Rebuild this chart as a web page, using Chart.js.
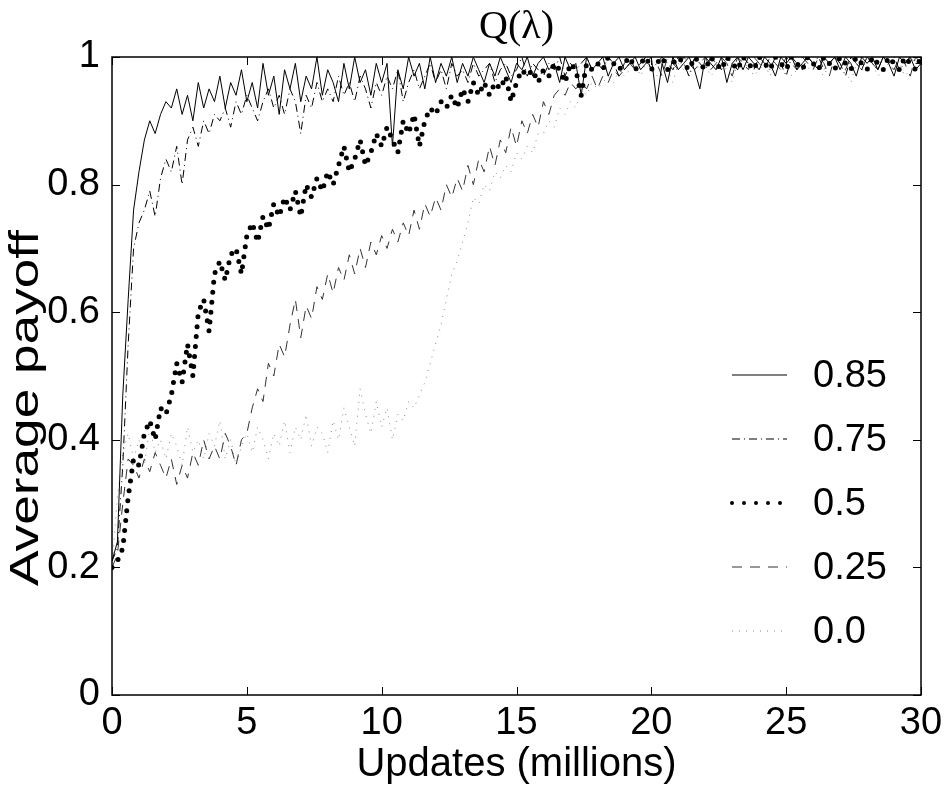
<!DOCTYPE html>
<html>
<head>
<meta charset="utf-8">
<script src="https://cdn.jsdelivr.net/npm/chart.js@4.4.0/dist/chart.umd.min.js"></script>
<style>
  html, body { margin: 0; padding: 0; background: #fff; }
  canvas { display: block; }
</style>
</head>
<body>
<canvas id="chart" width="949" height="787"></canvas>
<script>
// Data: average payoff vs. updates (millions), one value every 0.2M
const STEP = 0.2;
const updates = Array.from({ length: 151 }, (_, i) => +(i * STEP).toFixed(1));

const lambdaLabels = ['0.85', '0.75', '0.5', '0.25', '0.0'];

const payoff085 = [
  0.21, 0.24, 0.47, 0.62, 0.76, 0.82, 0.87, 0.90, 0.88, 0.91,
  0.93, 0.92, 0.95, 0.91, 0.94, 0.90, 0.96, 0.92, 0.95, 0.93,
  0.97, 0.92, 0.96, 0.94, 0.98, 0.93, 0.96, 0.92, 0.99, 0.94,
  0.97, 0.91, 0.98, 0.95, 0.99, 0.93, 0.97, 0.95, 1.00, 0.94,
  0.98, 0.96, 0.93, 0.99, 0.95, 1.00, 0.96, 0.98, 0.94, 0.99,
  0.96, 0.99, 0.86, 0.98, 0.95, 1.00, 0.97, 0.99, 0.95, 1.00,
  0.96, 0.99, 0.97, 1.00, 0.96, 0.99, 0.97, 1.00, 0.98, 0.96,
  0.99, 0.97, 1.00, 0.98, 0.96, 0.99, 0.98, 1.00, 0.97, 0.99,
  1.00, 0.98, 0.99, 0.96, 1.00, 0.98, 0.99, 0.94, 1.00, 0.98,
  0.99, 1.00, 0.97, 0.99, 1.00, 0.98, 0.99, 1.00, 0.98, 0.99,
  1.00, 0.93, 0.99, 0.96, 1.00, 0.98, 0.99, 1.00, 0.98, 0.95,
  1.00, 0.99, 0.98, 1.00, 0.96, 0.99, 1.00, 0.98, 1.00, 0.99,
  0.98, 1.00, 0.99, 0.97, 1.00, 0.99, 1.00, 0.98, 0.99, 1.00,
  0.99, 0.98, 1.00, 0.99, 1.00, 0.98, 1.00, 0.99, 0.97, 1.00,
  0.99, 1.00, 0.98, 1.00, 0.99, 0.97, 1.00, 0.99, 1.00, 0.98,
  0.99
];

const payoff075 = [
  0.21, 0.23, 0.36, 0.55, 0.70, 0.74, 0.76, 0.79, 0.75, 0.81,
  0.84, 0.82, 0.86, 0.80, 0.87, 0.89, 0.86, 0.90, 0.88, 0.91,
  0.90, 0.92, 0.89, 0.93, 0.91, 0.94, 0.92, 0.90, 0.93, 0.95,
  0.92, 0.94, 0.91, 0.95, 0.93, 0.88, 0.94, 0.92, 0.96, 0.93,
  0.95, 0.93, 0.97, 0.94, 0.96, 0.93, 0.97, 0.95, 0.92, 0.96,
  0.94, 0.97, 0.95, 0.98, 0.93, 0.96, 0.98, 0.95, 0.97, 0.99,
  0.96, 0.98, 0.95, 0.99, 0.97, 0.98, 0.96, 0.99, 0.97, 0.98,
  0.99, 0.96, 0.98, 0.99, 0.97, 0.98, 1.00, 0.97, 0.99, 0.98,
  0.97, 0.99, 0.98, 1.00, 0.97, 0.99, 0.98, 0.99, 1.00, 0.98,
  0.99, 0.98, 1.00, 0.99, 0.97, 0.99, 1.00, 0.98, 0.99, 1.00,
  0.98, 0.99, 1.00, 0.99, 0.98, 1.00, 0.99, 0.97, 1.00, 0.99,
  0.98, 1.00, 0.99, 0.98, 1.00, 0.99, 0.98, 1.00, 0.99, 0.98,
  1.00, 0.99, 0.98, 1.00, 0.99, 0.97, 1.00, 0.99, 0.98, 1.00,
  0.99, 1.00, 0.98, 0.99, 1.00, 0.99, 0.97, 1.00, 0.99, 0.98,
  1.00, 0.99, 0.98, 1.00, 0.99, 1.00, 0.98, 0.99, 1.00, 0.99,
  0.99
];

const payoff050 = [
  0.20, 0.21, 0.23, 0.31, 0.37, 0.36, 0.41, 0.43, 0.40, 0.45,
  0.44, 0.47, 0.52, 0.49, 0.55, 0.50, 0.60, 0.62, 0.57, 0.66,
  0.68, 0.65, 0.69, 0.70, 0.66, 0.72, 0.74, 0.71, 0.75, 0.73,
  0.77, 0.75, 0.78, 0.76, 0.79, 0.75, 0.80, 0.78, 0.81, 0.79,
  0.82, 0.80, 0.83, 0.86, 0.82, 0.84, 0.87, 0.83, 0.85, 0.88,
  0.86, 0.89, 0.87, 0.85, 0.90, 0.88, 0.91, 0.86, 0.90, 0.92,
  0.91, 0.93, 0.92, 0.94, 0.92, 0.95, 0.93, 0.96, 0.94, 0.96,
  0.94, 0.96, 0.95, 0.97, 0.93, 0.96, 0.98, 0.97, 0.98, 0.96,
  0.98, 0.97, 0.99, 0.98, 0.96, 0.99, 0.98, 0.94, 0.99, 0.98,
  0.99, 0.98, 1.00, 0.99, 0.98, 0.99, 1.00, 0.98, 0.99, 1.00,
  0.98, 0.99, 1.00, 0.98, 0.99, 1.00, 0.99, 0.98, 1.00, 0.99,
  0.98, 1.00, 0.99, 0.98, 1.00, 0.99, 0.98, 1.00, 0.99, 0.98,
  1.00, 0.99, 0.98, 1.00, 0.99, 0.98, 1.00, 0.99, 0.98, 1.00,
  0.99, 0.98, 1.00, 0.99, 0.98, 1.00, 0.99, 0.98, 1.00, 0.99,
  0.98, 1.00, 0.99, 0.98, 1.00, 0.99, 0.98, 1.00, 0.99, 0.98,
  1.00
];

const payoff025 = [
  0.20, 0.22, 0.30, 0.37, 0.36, 0.34, 0.37, 0.35, 0.38, 0.36,
  0.34, 0.37, 0.33, 0.36, 0.34, 0.38, 0.36, 0.40, 0.37, 0.39,
  0.37, 0.41, 0.39, 0.36, 0.40, 0.41, 0.45, 0.48, 0.46, 0.52,
  0.50, 0.55, 0.53, 0.58, 0.62, 0.56, 0.61, 0.59, 0.64, 0.62,
  0.66, 0.63, 0.67, 0.65, 0.69, 0.66, 0.70, 0.67, 0.71, 0.69,
  0.72, 0.70, 0.73, 0.71, 0.74, 0.72, 0.76, 0.73, 0.77, 0.75,
  0.78, 0.76, 0.80, 0.78, 0.81, 0.79, 0.83, 0.80, 0.84, 0.82,
  0.86, 0.83, 0.87, 0.85, 0.89, 0.86, 0.90, 0.88, 0.91, 0.89,
  0.93, 0.91, 0.94, 0.95, 0.94, 0.96, 0.95, 0.96, 0.95, 0.97,
  0.95, 0.97, 0.96, 0.98, 0.97, 0.98, 0.99, 0.98, 0.99, 1.00,
  0.98, 0.99, 0.97, 1.00, 0.99, 0.98, 1.00, 0.99, 0.98, 0.99,
  1.00, 0.98, 0.99, 1.00, 0.99, 0.97, 1.00, 0.99, 0.98, 1.00,
  0.99, 0.98, 1.00, 0.99, 0.98, 1.00, 0.99, 0.98, 1.00, 0.99,
  0.98, 1.00, 0.99, 0.97, 1.00, 0.99, 0.98, 1.00, 0.99, 0.98,
  1.00, 0.99, 0.98, 1.00, 0.99, 0.98, 1.00, 0.99, 0.97, 1.00,
  0.99
];

const payoff000 = [
  0.20, 0.31, 0.38, 0.41, 0.37, 0.40, 0.36, 0.42, 0.38, 0.40,
  0.37, 0.41, 0.39, 0.36, 0.42, 0.38, 0.40, 0.37, 0.41, 0.39,
  0.43, 0.37, 0.40, 0.36, 0.39, 0.41, 0.38, 0.42, 0.40, 0.37,
  0.41, 0.39, 0.43, 0.38, 0.42, 0.40, 0.44, 0.39, 0.42, 0.41,
  0.38, 0.43, 0.40, 0.45, 0.42, 0.39, 0.48, 0.44, 0.41, 0.46,
  0.42, 0.45, 0.40, 0.44, 0.43, 0.46, 0.45, 0.47, 0.49, 0.52,
  0.55, 0.58, 0.62, 0.66, 0.68, 0.71, 0.74, 0.78, 0.77, 0.80,
  0.79, 0.82, 0.81, 0.83, 0.82, 0.85, 0.84, 0.86, 0.85, 0.88,
  0.88, 0.90, 0.89, 0.92, 0.91, 0.93, 0.92, 0.95, 0.94, 0.96,
  0.95, 0.96, 0.97, 0.96, 0.98, 0.97, 0.98, 0.99, 0.97, 0.99,
  0.98, 0.97, 0.99, 0.98, 0.96, 0.99, 0.98, 0.97, 0.99, 0.98,
  0.99, 0.97, 0.98, 0.99, 0.98, 0.96, 0.99, 0.98, 0.99, 0.97,
  0.98, 0.99, 0.97, 0.99, 0.98, 0.99, 0.97, 0.98, 0.99, 0.98,
  0.99, 0.98, 0.97, 0.99, 0.98, 0.99, 0.98, 0.96, 0.99, 0.98,
  0.98, 0.99, 0.97, 0.98, 0.99, 0.98, 0.99, 0.97, 0.98, 0.99,
  0.98
];

const series = [payoff085, payoff075, payoff050, payoff025, payoff000];

const xTicks = [0, 5, 10, 15, 20, 25, 30];
const yTicks = [0, 0.2, 0.4, 0.6, 0.8, 1];

// line looks, matlab style
const styles = [
  { color: '#000', width: 1, dash: [], cap: 'butt' },
  { color: '#000', width: 1, dash: [8, 4, 1, 4], cap: 'butt' },
  { color: '#000', width: 5, dash: [0, 10], cap: 'round' },
  { color: '#333', width: 1, dash: [10, 8], cap: 'butt' },
  { color: '#888', width: 1, dash: [1, 6], cap: 'butt' }
];

const SANS = '"Liberation Sans", Arial, sans-serif';

// box, inward ticks, titles and legend drawn on top
const matlabFrame = {
  id: 'matlabFrame',
  afterDraw(chart) {
    const { ctx, chartArea: a, scales } = chart;
    ctx.save();
    ctx.strokeStyle = '#000';
    ctx.lineWidth = 1.5;
    ctx.strokeRect(a.left, a.top, a.right - a.left, a.bottom - a.top);

    ctx.lineWidth = 1;
    const tl = 8;
    ctx.beginPath();
    xTicks.forEach(v => {
      const px = Math.round(scales.x.getPixelForValue(v)) + 0.5;
      ctx.moveTo(px, a.bottom); ctx.lineTo(px, a.bottom - tl);
      ctx.moveTo(px, a.top); ctx.lineTo(px, a.top + tl);
    });
    yTicks.forEach(v => {
      const py = Math.round(scales.y.getPixelForValue(v)) + 0.5;
      ctx.moveTo(a.left, py); ctx.lineTo(a.left + tl, py);
      ctx.moveTo(a.right, py); ctx.lineTo(a.right - tl, py);
    });
    ctx.stroke();

    ctx.fillStyle = '#000';
    ctx.textAlign = 'center';
    ctx.textBaseline = 'middle';

    // title Q(λ)
    ctx.font = '40px "Liberation Serif", "Times New Roman", serif';
    ctx.fillText('Q(λ)', (a.left + a.right) / 2, 27);

    // y title, drawn long and upright like the original
    ctx.save();
    ctx.translate(27, (a.top + a.bottom) / 2 + 32);
    ctx.rotate(-Math.PI / 2);
    ctx.scale(1.33, 1);
    ctx.font = '40px ' + SANS;
    ctx.fillText('Average payoff', 0, 0);
    ctx.restore();

    // legend inside the axes, lower right
    ctx.font = '38px ' + SANS;
    ctx.textAlign = 'left';
    chart.data.datasets.forEach((ds, i) => {
      const s = styles[i];
      const y = a.top + 318 + i * 64;
      ctx.save();
      ctx.strokeStyle = s.color;
      ctx.lineWidth = s.width === 5 ? 4 : s.width;
      ctx.lineCap = s.cap;
      ctx.setLineDash(s.width === 5 ? [0, 12] : s.dash);
      ctx.beginPath();
      ctx.moveTo(a.right - 189, y);
      ctx.lineTo(a.right - 134, y);
      ctx.stroke();
      ctx.restore();
      ctx.fillText(ds.label, a.right - 108, y + 2);
    });
    ctx.restore();
  }
};

const ctx = document.getElementById('chart').getContext('2d');
new Chart(ctx, {
  type: 'line',
  data: {
    datasets: series.map((vals, i) => ({
      label: lambdaLabels[i],
      data: vals.map((v, j) => ({ x: updates[j], y: v })),
      borderColor: styles[i].color,
      borderWidth: styles[i].width,
      borderDash: styles[i].dash,
      borderCapStyle: styles[i].cap,
      pointRadius: 0,
      tension: 0,
      fill: false
    }))
  },
  options: {
    responsive: false,
    animation: false,
    layout: { padding: { top: 57, right: 28, left: 0, bottom: 0 } },
    plugins: {
      legend: { display: false },
      tooltip: { enabled: false }
    },
    scales: {
      x: {
        type: 'linear',
        min: 0,
        max: 30,
        afterFit: s => { s.height = 92; },
        grid: { display: false, drawTicks: false },
        border: { display: false },
        ticks: {
          stepSize: 5,
          padding: 6,
          color: '#000',
          maxRotation: 0,
          font: { family: SANS, size: 38 }
        },
        title: {
          display: true,
          text: 'Updates (millions)',
          color: '#000',
          padding: { top: 0, bottom: 2 },
          font: { family: SANS, size: 40, lineHeight: 1 }
        }
      },
      y: {
        min: 0,
        max: 1,
        afterFit: s => { s.width = 112; },
        grid: { display: false, drawTicks: false },
        border: { display: false },
        ticks: {
          stepSize: 0.2,
          padding: 12,
          color: '#000',
          font: { family: SANS, size: 38 },
          callback: v => String(+v.toFixed(1))
        }
      }
    }
  },
  plugins: [matlabFrame]
});
</script>
</body>
</html>
